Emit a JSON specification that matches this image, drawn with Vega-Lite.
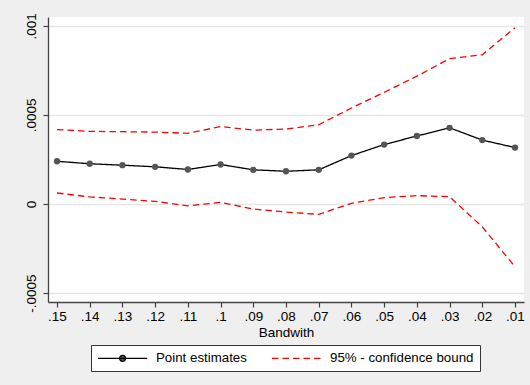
{
  "$schema": "https://vega.github.io/schema/vega-lite/v6.json",
  "width": 476,
  "height": 285,
  "autosize": {"type": "none"},
  "padding": {"left": 48, "top": 17, "right": 6, "bottom": 83},
  "background": "#efefef",
  "config": {
    "font": "Liberation Sans",
    "view": {"fill": "white", "stroke": null},
    "axis": {
      "domainColor": "#444444",
      "domainWidth": 1.3,
      "tickColor": "#444444",
      "tickWidth": 1.2,
      "tickSize": 5,
      "labelColor": "#000000",
      "labelFontSize": 13.5,
      "labelFont": "Liberation Sans",
      "titleFont": "Liberation Sans",
      "titleFontSize": 13.5,
      "titleFontWeight": "normal",
      "titleColor": "#000000",
      "gridColor": "#e6e6e6",
      "gridWidth": 1.3
    },
    "legend": {
      "labelFont": "Liberation Sans",
      "labelFontSize": 13.3,
      "labelColor": "#000000"
    }
  },
  "data": {
    "values": [
      {"bw": 0.15, "value": 0.000240, "series": "Point estimates", "line": "est"},
      {"bw": 0.14, "value": 0.000226, "series": "Point estimates", "line": "est"},
      {"bw": 0.13, "value": 0.000218, "series": "Point estimates", "line": "est"},
      {"bw": 0.12, "value": 0.000209, "series": "Point estimates", "line": "est"},
      {"bw": 0.11, "value": 0.000194, "series": "Point estimates", "line": "est"},
      {"bw": 0.10, "value": 0.000222, "series": "Point estimates", "line": "est"},
      {"bw": 0.09, "value": 0.000192, "series": "Point estimates", "line": "est"},
      {"bw": 0.08, "value": 0.000184, "series": "Point estimates", "line": "est"},
      {"bw": 0.07, "value": 0.000192, "series": "Point estimates", "line": "est"},
      {"bw": 0.06, "value": 0.000272, "series": "Point estimates", "line": "est"},
      {"bw": 0.05, "value": 0.000334, "series": "Point estimates", "line": "est"},
      {"bw": 0.04, "value": 0.000382, "series": "Point estimates", "line": "est"},
      {"bw": 0.03, "value": 0.000428, "series": "Point estimates", "line": "est"},
      {"bw": 0.02, "value": 0.000359, "series": "Point estimates", "line": "est"},
      {"bw": 0.01, "value": 0.000317, "series": "Point estimates", "line": "est"},
      {"bw": 0.15, "value": 0.000418, "series": "95% - confidence bound", "line": "upper"},
      {"bw": 0.14, "value": 0.000408, "series": "95% - confidence bound", "line": "upper"},
      {"bw": 0.13, "value": 0.000406, "series": "95% - confidence bound", "line": "upper"},
      {"bw": 0.12, "value": 0.000404, "series": "95% - confidence bound", "line": "upper"},
      {"bw": 0.11, "value": 0.000397, "series": "95% - confidence bound", "line": "upper"},
      {"bw": 0.10, "value": 0.000435, "series": "95% - confidence bound", "line": "upper"},
      {"bw": 0.09, "value": 0.000415, "series": "95% - confidence bound", "line": "upper"},
      {"bw": 0.08, "value": 0.000421, "series": "95% - confidence bound", "line": "upper"},
      {"bw": 0.07, "value": 0.000445, "series": "95% - confidence bound", "line": "upper"},
      {"bw": 0.06, "value": 0.000539, "series": "95% - confidence bound", "line": "upper"},
      {"bw": 0.05, "value": 0.000627, "series": "95% - confidence bound", "line": "upper"},
      {"bw": 0.04, "value": 0.000718, "series": "95% - confidence bound", "line": "upper"},
      {"bw": 0.03, "value": 0.000816, "series": "95% - confidence bound", "line": "upper"},
      {"bw": 0.02, "value": 0.000838, "series": "95% - confidence bound", "line": "upper"},
      {"bw": 0.01, "value": 0.000990, "series": "95% - confidence bound", "line": "upper"},
      {"bw": 0.15, "value": 0.000062, "series": "95% - confidence bound", "line": "lower"},
      {"bw": 0.14, "value": 0.000040, "series": "95% - confidence bound", "line": "lower"},
      {"bw": 0.13, "value": 0.000028, "series": "95% - confidence bound", "line": "lower"},
      {"bw": 0.12, "value": 0.000015, "series": "95% - confidence bound", "line": "lower"},
      {"bw": 0.11, "value": -0.000010, "series": "95% - confidence bound", "line": "lower"},
      {"bw": 0.10, "value": 0.000009, "series": "95% - confidence bound", "line": "lower"},
      {"bw": 0.09, "value": -0.000028, "series": "95% - confidence bound", "line": "lower"},
      {"bw": 0.08, "value": -0.000045, "series": "95% - confidence bound", "line": "lower"},
      {"bw": 0.07, "value": -0.000058, "series": "95% - confidence bound", "line": "lower"},
      {"bw": 0.06, "value": 0.000004, "series": "95% - confidence bound", "line": "lower"},
      {"bw": 0.05, "value": 0.000036, "series": "95% - confidence bound", "line": "lower"},
      {"bw": 0.04, "value": 0.000047, "series": "95% - confidence bound", "line": "lower"},
      {"bw": 0.03, "value": 0.000041, "series": "95% - confidence bound", "line": "lower"},
      {"bw": 0.02, "value": -0.000128, "series": "95% - confidence bound", "line": "lower"},
      {"bw": 0.01, "value": -0.000352, "series": "95% - confidence bound", "line": "lower"}
    ]
  },
  "encoding": {
    "x": {
      "field": "bw",
      "type": "quantitative",
      "scale": {"domain": [0.15275, 0.00725], "nice": false, "zero": false},
      "axis": {
        "title": "Bandwith",
        "values": [0.15, 0.14, 0.13, 0.12, 0.11, 0.1, 0.09, 0.08, 0.07, 0.06, 0.05, 0.04, 0.03, 0.02, 0.01],
        "labelExpr": "slice(format(datum.value, '.2~f'), 1)",
        "grid": false,
        "labelPadding": 2,
        "titlePadding": 3,
        "labelFlush": false,
        "labelOverlap": false
      }
    },
    "y": {
      "field": "value",
      "type": "quantitative",
      "scale": {"domain": [-0.00055, 0.00105], "nice": false, "zero": false},
      "axis": {
        "title": null,
        "values": [-0.0005, 0, 0.0005, 0.001],
        "labelExpr": "datum.value == 0 ? '0' : (datum.value > 0 ? slice(format(datum.value, '~f'), 1) : '-' + slice(format(-datum.value, '~f'), 1))",
        "labelAngle": -90,
        "labelAlign": "center",
        "labelBaseline": "bottom",
        "labelPadding": 5,
        "grid": true,
        "labelFlush": false,
        "labelOverlap": false
      }
    }
  },
  "layer": [
    {
      "mark": {"type": "line", "strokeWidth": 1.3},
      "encoding": {
        "detail": {"field": "line"},
        "color": {
          "field": "series",
          "type": "nominal",
          "scale": {"domain": ["Point estimates", "95% - confidence bound"], "range": ["#000000", "#ff0000"]},
          "legend": {
            "title": null,
            "orient": "none",
            "legendX": 43,
            "legendY": 328,
            "direction": "horizontal",
            "padding": 6,
            "columnPadding": 22,
            "labelOffset": 45,
            "symbolSize": 144,
            "symbolStrokeWidth": 1.3,
            "fillColor": "white",
            "strokeColor": "#333333",
            "encode": {
              "symbols": {
                "update": {
                  "shape": {"signal": "datum.value === 'Point estimates' ? 'M-1,0H7.2M2.6,0A0.5,0.5,0,1,0,3.6,0A0.5,0.5,0,1,0,2.6,0' : 'M-1,0H7.2'"},
                  "fill": {"signal": "datum.value === 'Point estimates' ? '#555555' : 'transparent'"}
                }
              }
            }
          }
        },
        "strokeDash": {
          "field": "series",
          "type": "nominal",
          "scale": {"domain": ["Point estimates", "95% - confidence bound"], "range": [[1, 0], [6.5, 4]]},
          "legend": null
        }
      }
    },
    {
      "transform": [{"filter": "datum.line === 'est'"}],
      "mark": {"type": "point", "filled": true, "color": "#555555", "opacity": 1, "size": 40}
    }
  ]
}
